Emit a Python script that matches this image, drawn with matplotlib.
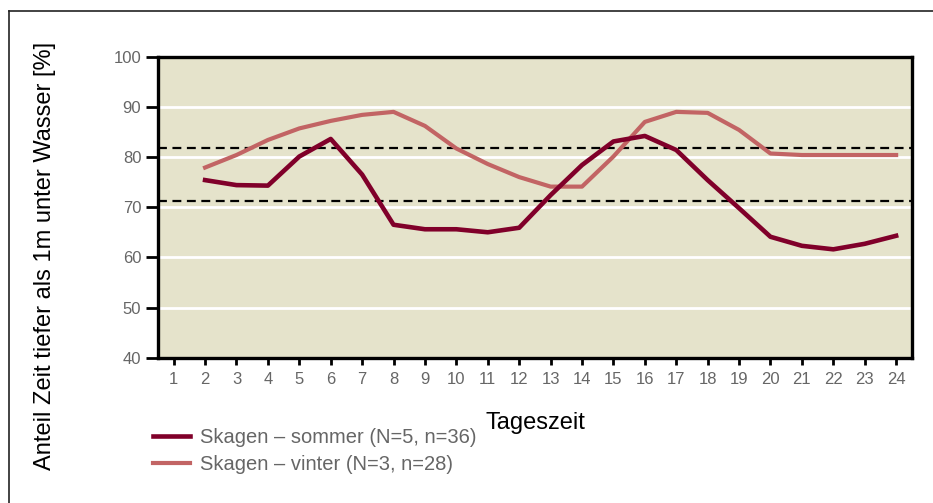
import matplotlib
matplotlib.use('Agg')
import matplotlib.pyplot as plt
from matplotlib.lines import Line2D

plt.rcParams['font.family'] = ['Liberation Sans', 'DejaVu Sans']

# Stunden (Tageszeit) und Anteile in %
stunden = list(range(2, 25))
sommer = [75.4, 74.4, 74.3, 80.1, 83.6, 76.5, 66.5, 65.6, 65.6, 65.0, 65.9,
          72.4, 78.4, 83.1, 84.2, 81.4, 75.4, 69.8, 64.1, 62.3, 61.6, 62.7, 64.3]
vinter = [77.9, 80.4, 83.4, 85.7, 87.2, 88.4, 89.0, 86.2, 81.7, 78.6, 76.0,
          74.1, 74.1, 80.1, 87.0, 89.0, 88.8, 85.4, 80.7, 80.4, 80.4, 80.4, 80.4]
grenzen = [81.8, 71.3]
x_ticks = list(range(1, 25))
y_ticks = [40, 50, 60, 70, 80, 90, 100]
label_sommer = 'Skagen \u2013 sommer (N=5, n=36)'
label_vinter = 'Skagen \u2013 vinter (N=3, n=28)'

fig = plt.figure(figsize=(9.33, 5.03), dpi=100)
ax = fig.add_axes([0.1693, 0.2889, 0.808, 0.5984])
ax.set_facecolor('#E5E3CB')

for v in y_ticks[1:-1]:
    ax.axhline(v, color='white', lw=2, zorder=1)
for g in grenzen:
    ax.axhline(g, color='black', lw=1.6, ls=(0, (4, 2.5)), zorder=2)

ax.plot(stunden, sommer, color='#80002A', lw=3.3, solid_joinstyle='round',
        label=label_sommer, zorder=4)
ax.plot(stunden, vinter, color='#C26464', lw=3.0, solid_joinstyle='round',
        label=label_vinter, zorder=3)

ax.set_xlim(0.5, 24.5)
ax.set_ylim(40, 100)
ax.set_xticks(x_ticks)
ax.set_yticks(y_ticks)
for s in ax.spines.values():
    s.set_linewidth(2.4)
    s.set_color('black')
ax.tick_params(axis='both', colors='black', width=2, labelcolor='#666666', labelsize=12)
ax.tick_params(axis='y', length=9, pad=3)
ax.tick_params(axis='x', length=5, pad=5)

fig.text(535 / 933, 1 - 423 / 503, 'Tageszeit', ha='center', va='center', fontsize=17)
fig.text(45 / 933, 1 - 256 / 503, 'Anteil Zeit tiefer als 1m unter Wasser [%]', rotation=90,
         ha='center', va='center', fontsize=17)

leg = fig.legend(loc='upper left', bbox_to_anchor=(153 / 933, 1 - 428 / 503), frameon=False,
                 fontsize=14.5, handlelength=1.85, handletextpad=0.5, labelspacing=0.4,
                 borderpad=0, borderaxespad=0)
for t in leg.get_texts():
    t.set_color('#666666')

# Rahmen links und oben
fig.add_artist(Line2D([9 / 933, 9 / 933], [0, 1 - 11 / 503], color='#222222', lw=1.2))
fig.add_artist(Line2D([9 / 933, 1], [1 - 11 / 503, 1 - 11 / 503], color='#222222', lw=1.2))

fig.savefig('out.png', dpi=100)
